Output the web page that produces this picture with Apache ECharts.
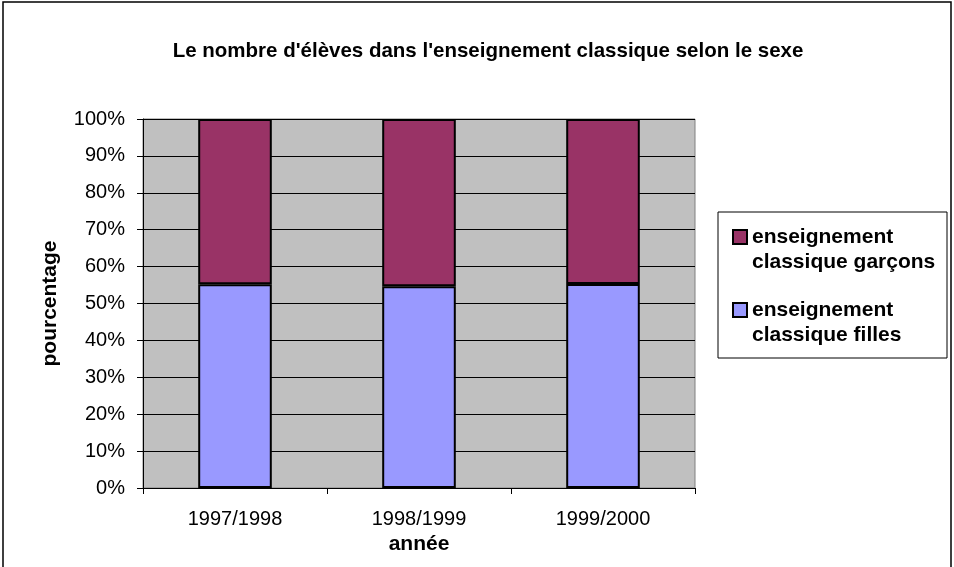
<!DOCTYPE html>
<html>
<head>
<meta charset="utf-8">
<script src="https://cdn.jsdelivr.net/npm/echarts@6/dist/echarts.min.js"></script>
<style>
  html, body { margin: 0; padding: 0; background: #fff; }
  #chart { width: 954px; height: 567px; }
</style>
</head>
<body>
<div id="chart"></div>
<script>
// années scolaires
const categories = ['1997/1998', '1998/1999', '1999/2000']
// parts en pourcentage
const fillesValues = [55.2, 54.7, 55.3]
const garconsValues = [44.8, 45.3, 44.7]
const yTicks = [0, 10, 20, 30, 40, 50, 60, 70, 80, 90, 100]

const FONT = '"Liberation Sans", Arial, sans-serif'
const LH = 25

const chart = echarts.init(document.getElementById('chart'))

// légende : 3 lignes (une vide au-dessus) pour que le carré soit aligné sur la 1re ligne
const legendBase = {
  orient: 'vertical',
  left: 732,
  padding: 0,
  itemWidth: 14,
  itemHeight: 14,
  icon: 'rect',
  textStyle: {
    fontFamily: FONT,
    fontSize: 21,
    fontWeight: 'bold',
    color: '#000',
    lineHeight: LH
  },
  formatter: (name) => ' \n' + name.replace(' classique', '\nclassique')
}

chart.setOption({
  backgroundColor: '#fff',
  animation: false,
  title: {
    text: "Le nombre d'élèves dans l'enseignement classique selon le sexe",
    left: 483,
    top: 36,
    textAlign: 'center',
    textStyle: {
      fontFamily: FONT,
      fontSize: 20.5,
      fontWeight: 'bold',
      color: '#000'
    }
  },
  legend: [
    Object.assign({}, legendBase, { top: 237 - 1.5 * LH, data: ['enseignement classique garçons'] }),
    Object.assign({}, legendBase, { top: 310 - 1.5 * LH, data: ['enseignement classique filles'] })
  ],
  graphic: [
    {
      type: 'rect',
      shape: { x: 3, y: 2, width: 948, height: 620 },
      style: { fill: 'none', stroke: '#000', lineWidth: 1.5 },
      silent: true,
      z: -1
    },
    {
      type: 'rect',
      shape: { x: 718, y: 212, width: 229, height: 146 },
      style: { fill: '#fff', stroke: '#000', lineWidth: 1 },
      silent: true,
      z: -1
    }
  ],
  grid: {
    left: 143,
    right: 259,
    top: 119,
    bottom: 79,
    show: true,
    backgroundColor: '#C0C0C0',
    borderColor: '#808080',
    borderWidth: 1
  },
  xAxis: {
    type: 'category',
    data: categories,
    name: 'année',
    nameLocation: 'middle',
    nameGap: 45,
    nameTextStyle: { fontFamily: FONT, fontSize: 21, fontWeight: 'bold', color: '#000' },
    axisLine: { lineStyle: { color: '#000', width: 1 } },
    axisTick: { show: true, length: 6, lineStyle: { color: '#000' } },
    axisLabel: { fontFamily: FONT, fontSize: 20, color: '#000', margin: 21 }
  },
  yAxis: {
    type: 'value',
    min: yTicks[0],
    max: yTicks[yTicks.length - 1],
    interval: 10,
    name: 'pourcentage',
    nameLocation: 'middle',
    nameGap: 82,
    nameTextStyle: { fontFamily: FONT, fontSize: 21, fontWeight: 'bold', color: '#000' },
    axisLine: { show: true, lineStyle: { color: '#000', width: 1 } },
    axisTick: { show: true, length: 6, lineStyle: { color: '#000' } },
    axisLabel: { fontFamily: FONT, fontSize: 20, color: '#000', margin: 18, formatter: '{value}%' },
    splitLine: { show: true, lineStyle: { color: '#000', width: 1 } }
  },
  series: [
    {
      name: 'enseignement classique filles',
      type: 'bar',
      stack: 'total',
      barWidth: '40%',
      data: fillesValues,
      itemStyle: { color: '#9999FF', borderColor: '#000', borderWidth: 2 }
    },
    {
      name: 'enseignement classique garçons',
      type: 'bar',
      stack: 'total',
      barWidth: '40%',
      data: garconsValues,
      itemStyle: { color: '#993366', borderColor: '#000', borderWidth: 2 }
    }
  ]
})
</script>
</body>
</html>
